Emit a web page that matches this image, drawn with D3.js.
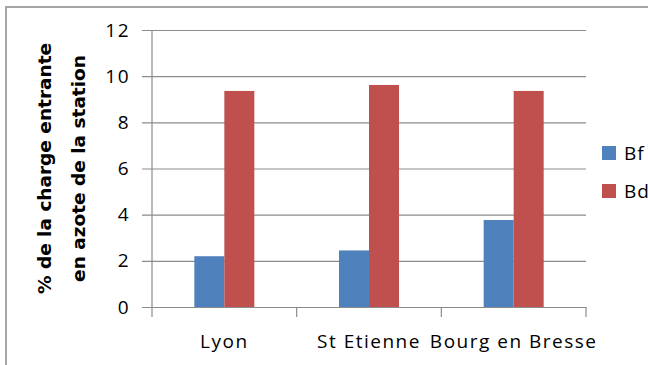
<!DOCTYPE html>
<html>
<head>
<meta charset="utf-8">
<script src="https://cdn.jsdelivr.net/npm/d3@7"></script>
<style>
  body { margin: 0; background: #fff; }
  text { fill: #000; }
</style>
</head>
<body>
<div id="main"></div>
<script>
const categories = ['Lyon', 'St Etienne', 'Bourg en Bresse'];
const series = ['Bf', 'Bd'];
const bfValues = [2.2, 2.45, 3.77];
const bdValues = [9.36, 9.62, 9.36];
const yTicks = [0, 2, 4, 6, 8, 10, 12];
const colors = ['#4f81bd', '#c0504d'];
const titleLines = ['% de la charge entrante', 'en azote de la station'];

const width = 648;
const height = 365;
const margin = {left: 152, top: 30, right: 62, bottom: 58};
const plotW = width - margin.left - margin.right;
const plotH = height - margin.top - margin.bottom;

const svg = d3.select('#main')
    .append('svg')
    .attr('width', width)
    .attr('height', height);

// chart area border (runs off the right/bottom edges)
svg.append('rect')
    .attr('x', 6).attr('y', 7)
    .attr('width', 700).attr('height', 400)
    .attr('fill', 'none')
    .attr('stroke', '#a6a6a6')
    .attr('stroke-width', 2);

const g = svg.append('g')
    .attr('transform', `translate(${margin.left},${margin.top})`);

const x0 = d3.scaleBand()
    .domain(categories)
    .range([0, plotW]);

const groupW = 60;
const x1 = d3.scaleBand()
    .domain(series)
    .range([(x0.bandwidth() - groupW) / 2, (x0.bandwidth() + groupW) / 2]);

const y = d3.scaleLinear()
    .domain([0, 12])
    .range([plotH, 0]);

// gridlines + y axis
const yAxis = g.append('g')
    .call(d3.axisLeft(y).tickValues(yTicks).tickSizeInner(-plotW).tickSizeOuter(0).tickPadding(22));
yAxis.select('.domain').remove();
yAxis.selectAll('.tick line')
    .attr('x1', -10)
    .attr('stroke', '#8c8c8c')
    .attr('stroke-width', 1.2);
yAxis.selectAll('.tick text')
    .style('font-family', '"Open Sans", sans-serif')
    .style('font-size', '19px')
    .style('letter-spacing', '1.5px')
    .attr('fill', '#000');

const data = categories.map((c, i) => ({cat: c, vals: [bfValues[i], bdValues[i]]}));

const groups = g.selectAll('.grp')
    .data(data)
    .enter()
    .append('g')
    .attr('class', 'grp')
    .attr('transform', d => `translate(${x0(d.cat)},0)`);

groups.selectAll('rect')
    .data(d => d.vals.map((v, j) => ({s: series[j], v: v, j: j})))
    .enter()
    .append('rect')
    .attr('x', d => x1(d.s))
    .attr('width', x1.bandwidth())
    .attr('y', d => y(d.v))
    .attr('height', d => plotH - y(d.v))
    .attr('fill', d => colors[d.j]);

// y axis line
g.append('line')
    .attr('x1', 0).attr('x2', 0)
    .attr('y1', 0).attr('y2', plotH)
    .attr('stroke', '#8c8c8c')
    .attr('stroke-width', 1.2);

// x axis
const xAxis = g.append('g')
    .attr('transform', `translate(0,${plotH})`)
    .call(d3.axisBottom(x0).tickSize(0).tickPadding(28));
xAxis.select('.domain')
    .attr('stroke', '#8c8c8c')
    .attr('stroke-width', 1.2);
xAxis.selectAll('.tick text')
    .style('font-family', '"Open Sans", sans-serif')
    .style('font-size', '19px')
    .style('letter-spacing', '1.5px')
    .attr('fill', '#000');

// category boundary ticks
g.selectAll('.ctick')
    .data(categories.map(c => x0(c)).concat([plotW]))
    .enter()
    .append('line')
    .attr('class', 'ctick')
    .attr('x1', d => d).attr('x2', d => d)
    .attr('y1', plotH).attr('y2', plotH + 10)
    .attr('stroke', '#8c8c8c')
    .attr('stroke-width', 1.2);

// axis title
const title = svg.append('text')
    .attr('transform', `translate(51,${margin.top + plotH / 2}) rotate(-90)`)
    .attr('text-anchor', 'middle')
    .style('font-family', '"DejaVu Sans", sans-serif')
    .style('font-weight', 'bold')
    .style('font-size', '18.5px');
title.selectAll('tspan')
    .data(titleLines)
    .enter()
    .append('tspan')
    .attr('x', 0)
    .attr('dy', (d, i) => i === 0 ? 0 : 34)
    .text(d => d);

// legend
const legend = svg.append('g')
    .attr('transform', 'translate(602,146)');
const items = legend.selectAll('g')
    .data(series)
    .enter()
    .append('g')
    .attr('transform', (d, i) => `translate(0,${i * 38})`);
items.append('rect')
    .attr('width', 14).attr('height', 14)
    .attr('fill', (d, i) => colors[i]);
items.append('text')
    .attr('x', 22).attr('y', 7)
    .attr('dy', '0.36em')
    .style('font-family', '"Open Sans", sans-serif')
    .style('font-size', '19px')
    .style('letter-spacing', '1px')
    .text(d => d);
</script>
</body>
</html>
